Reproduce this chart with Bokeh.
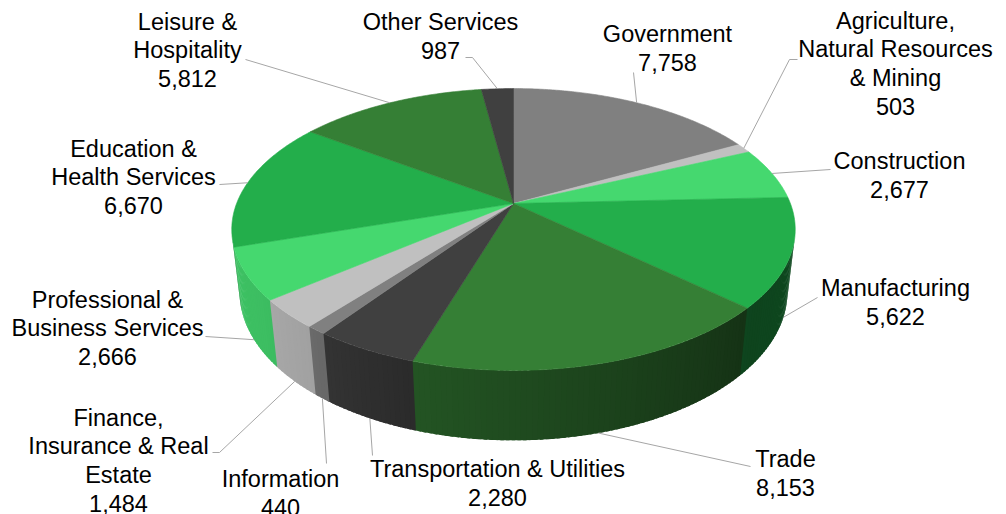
import numpy as np
from bokeh.plotting import figure
from bokeh.models import Range1d
from bokeh.embed import file_html
from bokeh.resources import INLINE
from bokeh.core.properties import value

# ---------------- data ----------------
sectors = ["Government", "Agriculture, Natural Resources & Mining", "Construction",
           "Manufacturing", "Trade", "Transportation & Utilities", "Information",
           "Finance, Insurance & Real Estate", "Professional & Business Services",
           "Education & Health Services", "Leisure & Hospitality", "Other Services"]
employment = [7758, 503, 2677, 5622, 8153, 2280, 440, 1484, 2666, 6670, 5812, 987]
label_lines = [["Government"], ["Agriculture,", "Natural Resources", "& Mining"],
               ["Construction"], ["Manufacturing"], ["Trade"],
               ["Transportation & Utilities"], ["Information"],
               ["Finance,", "Insurance & Real", "Estate"],
               ["Professional &", "Business Services"],
               ["Education &", "Health Services"], ["Leisure &", "Hospitality"],
               ["Other Services"]]

# ---------------- style / layout ----------------
palette = ["#808080", "#C0C0C0", "#45D86F", "#23AE4B", "#357F35", "#404040"]
label_pos = [(667, 33), (895, 20), (899, 160), (895, 287), (785, 458), (497, 468),
             (280, 478), (118, 417), (107, 299), (133, 148), (187, 21), (440, 21)]
leader_start = [[(633, 72)], [(797, 59), (789, 59)], [(830, 169)], [(817, 297)],
                [(750, 466)], [(372, 455)], [(326, 463)], [(212, 452), (219, 452)],
                [(205, 336)], [(219, 184)], [(245, 59)], [(465, 57), (472, 57)]]
LINE_H = 28.7

CX, CY = 513.0, 203.0
PHI = np.radians(29.45)
R, F, H = 0.2117, 1308.0, 0.0558


def proj(theta, yy):
    X = R * np.sin(theta)
    Z = R * np.cos(theta)
    d = 1 + Z * np.cos(PHI) - yy * np.sin(PHI)
    u = yy * np.cos(PHI) + Z * np.sin(PHI)
    return CX + F * X / d, CY - F * u / d


def hex2rgb(h):
    h = h.lstrip("#")
    return tuple(int(h[i:i + 2], 16) for i in (0, 2, 4))


def shade(h, f):
    r, g, b = hex2rgb(h)
    return "#%02x%02x%02x" % tuple(int(max(0, min(255, round(c * f)))) for c in (r, g, b))


shade_deg = [60, 100, 130, 165, 197, 210, 220, 235, 260, 300]
shade_fac = [0.42, 0.42, 0.39, 0.53, 0.66, 0.76, 0.84, 0.88, 0.90, 0.90]

total = float(sum(employment))
cum = np.concatenate([[0.0], np.cumsum(employment)])
starts = 2 * np.pi * cum[:-1] / total
ends = 2 * np.pi * cum[1:] / total
colors = [palette[i % len(palette)] for i in range(len(employment))]

p = figure(width=1006, height=514, x_range=Range1d(0, 1006), y_range=Range1d(514, 0),
           output_backend="svg", toolbar_location=None, min_border=0)
p.axis.visible = False
p.grid.visible = False
p.outline_line_color = None
p.background_fill_color = "white"
p.border_fill_color = "white"

# side strips (front-facing part of the cylinder wall), drawn in angle order,
# each slightly overlapping the next to avoid seams
vis_lo = np.arccos(-R / np.cos(PHI))
vis_hi = 2 * np.pi - vis_lo
OVER = np.radians(0.6)
sx, sy, sc = [], [], []
for i in range(len(employment)):
    a0, a1 = max(starts[i], vis_lo), min(ends[i], vis_hi)
    if a1 <= a0:
        continue
    n = max(2, int(np.degrees(a1 - a0)) + 1)
    th = np.linspace(a0, a1, n + 1)
    for k in range(n):
        t0 = th[k]
        t1 = min(th[k + 1] + OVER, vis_hi)
        tt = np.linspace(t0, t1, 4)
        xt, yt = proj(tt, 0.0)
        xb, yb = proj(tt[::-1], -H)
        sx.append(list(xt) + list(xb))
        sy.append(list(yt) + list(yb))
        fac = np.interp(np.degrees((th[k] + th[k + 1]) / 2), shade_deg, shade_fac)
        sc.append(shade(colors[i], fac))
p.patches(xs=sx, ys=sy, fill_color=sc, line_color=None)

# top faces
tx, ty = [], []
for i in range(len(employment)):
    n = max(2, int(np.degrees(ends[i] - starts[i]) * 2) + 1)
    th = np.linspace(starts[i], ends[i], n)
    xs, ys = proj(th, 0.0)
    tx.append([CX] + list(xs))
    ty.append([CY] + list(ys))
p.patches(xs=tx, ys=ty, fill_color=colors, line_color=colors, line_width=0.6)

# leader lines
lx, ly = [], []
for i in range(len(employment)):
    mid = (starts[i] + ends[i]) / 2
    yy = -H if np.cos(mid) < -R / np.cos(PHI) else 0.0
    ex, ey = proj(mid, yy)
    pts = leader_start[i] + [(ex, ey)]
    lx.append([q[0] for q in pts])
    ly.append([q[1] for q in pts])
p.multi_line(xs=lx, ys=ly, line_color="#A6A6A6", line_width=1)

# labels
txt_x, txt_y, txt = [], [], []
for i in range(len(employment)):
    lines = label_lines[i] + [f"{employment[i]:,}"]
    x0, y0 = label_pos[i]
    for j, s in enumerate(lines):
        txt_x.append(x0)
        txt_y.append(y0 + j * LINE_H)
        txt.append(s)
p.text(x=txt_x, y=txt_y, text=txt, text_font=value("Liberation Sans"),
       text_font_size=value("23.5px"), text_align="center", text_baseline="middle",
       text_color="#000000")

open("out.html", "w").write(file_html(p, INLINE))
